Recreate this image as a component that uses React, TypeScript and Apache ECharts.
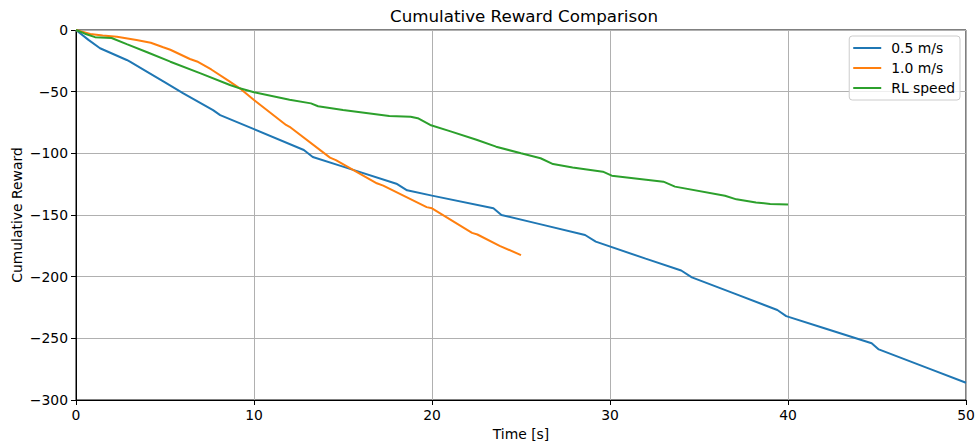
import React, { useEffect, useRef } from "react";
import * as echarts from "echarts";

const xTicks = [0, 10, 20, 30, 40, 50];
const yTicks = [0, -50, -100, -150, -200, -250, -300];

const seriesNames = ["0.5 m/s", "1.0 m/s", "RL speed"];
const seriesColors = ["#1f77b4", "#ff7f0e", "#2ca02c"];

const slowT = [0, 0.7, 1.35, 2.85, 3.03, 4, 5, 6.03, 7.7, 8.1, 10, 12.8, 13.3, 15, 18.0, 18.6, 20, 23.45, 23.9, 26, 28.6, 29.2, 32, 34.0, 34.6, 37, 39.4, 39.9, 42, 44.7, 45.1, 48, 50];
const slowV = [0, -8, -14.8, -24.3, -25.7, -34, -42.5, -51.4, -65, -69, -80.4, -97.3, -103, -110.8, -124.6, -130, -134.3, -144.6, -150, -157.2, -166.2, -171.6, -185.4, -195, -200.6, -213.8, -227, -232, -241.6, -254, -259, -275, -286];

const fastT = [0, 0.8, 1.5, 2.3, 3.4, 4.2, 4.9, 5.3, 6.4, 6.8, 7.6, 8.6, 9.2, 10, 11.8, 12.0, 14.27, 14.6, 16.9, 17.26, 19.7, 20.0, 22.25, 22.55, 23.8, 25];
const fastV = [0, -3.2, -4.5, -5.4, -8.1, -10.3, -14, -16, -23.5, -25.5, -32, -41.5, -47.3, -56.8, -77, -78.5, -103.5, -105.5, -124.3, -126.2, -143.6, -144.6, -164.5, -165.8, -175, -182.5];

const rlT = [0, 0.5, 1.07, 2.0, 2.85, 4, 5.3, 7, 8.65, 9.2, 10, 12, 13.2, 13.6, 15, 17.6, 18.8, 19.2, 19.9, 21, 22.5, 23.6, 25, 26.1, 26.8, 27.9, 29.6, 30.1, 33.0, 33.65, 36.46, 37.1, 38.2, 39, 40];
const rlV = [0, -3, -5.8, -6.5, -11.5, -18, -25.7, -35.2, -44.6, -47.3, -50.5, -56.5, -59.5, -61.8, -64.8, -69.7, -70.3, -71.5, -77, -82, -89, -94.6, -100, -104, -108.7, -111.4, -114.9, -118.1, -123, -127, -134.4, -137.3, -139.8, -141, -141.4];

const FONT = "DejaVu Sans";
const minus = (v: number) => String(v).replace("-", "\u2212");
const LINE_ICON = "path://M0,0 L28,0 L28,2 L0,2 Z";

function pairs(t: number[], v: number[]) {
  return t.map((x, i) => [x, v[i]]);
}

export default function App() {
  const ref = useRef<HTMLDivElement>(null);
  useEffect(() => {
    if (!ref.current) return;
    const chart = echarts.init(ref.current, undefined, { renderer: "svg" });
    const data = [pairs(slowT, slowV), pairs(fastT, fastV), pairs(rlT, rlV)];
    chart.setOption({
      animation: false,
      textStyle: { fontFamily: FONT },
      grid: {
        left: 76,
        right: 12,
        top: 30,
        bottom: 44,
        containLabel: false,
        outerBoundsMode: "none",
        show: true,
        borderColor: "#000",
        borderWidth: 1,
        backgroundColor: "transparent",
      },
      graphic: [
        {
          type: "text",
          x: 524,
          y: 16,
          style: {
            text: "Cumulative Reward Comparison",
            fontSize: 16.7,
            fontFamily: FONT,
            fill: "#000",
            align: "center",
            verticalAlign: "middle",
          },
        },
        {
          type: "text",
          x: 17,
          y: 215,
          rotation: Math.PI / 2,
          style: {
            text: "Cumulative Reward",
            fontSize: 13.9,
            fontFamily: FONT,
            fill: "#000",
            align: "center",
            verticalAlign: "middle",
          },
        },
      ],
      legend: {
        orient: "vertical",
        right: 18,
        top: 36,
        data: seriesNames.map((n) => ({ name: n, icon: LINE_ICON })),
        itemWidth: 28,
        itemHeight: 14,
        itemGap: 6,
        padding: [5, 5, 5, 4],
        borderColor: "#cccccc",
        borderWidth: 1,
        borderRadius: 3,
        backgroundColor: "rgba(255,255,255,0.8)",
        textStyle: { fontSize: 13.9, fontFamily: FONT, color: "#000", padding: [0, 0, 0, 5] },
      },
      xAxis: {
        type: "value",
        min: 0,
        max: 50,
        interval: 10,
        name: "Time [s]",
        nameLocation: "middle",
        nameGap: 25,
        nameTextStyle: { fontSize: 13.9, fontFamily: FONT, color: "#000" },
        axisLine: { show: true, onZero: false, lineStyle: { color: "#000", width: 1 } },
        axisTick: { show: true, length: 5, lineStyle: { color: "#000" } },
        axisLabel: { fontSize: 13.9, fontFamily: FONT, color: "#000", margin: 8, formatter: minus },
        splitLine: { show: true, lineStyle: { color: "#b0b0b0", width: 1 } },
      },
      yAxis: {
        type: "value",
        min: -300,
        max: 0,
        interval: 50,
        axisLine: { show: true, onZero: false, lineStyle: { color: "#000", width: 1 } },
        axisTick: { show: true, length: 5, lineStyle: { color: "#000" } },
        axisLabel: { fontSize: 13.9, fontFamily: FONT, color: "#000", margin: 8, formatter: minus },
        splitLine: { show: true, lineStyle: { color: "#b0b0b0", width: 1 } },
      },
      series: seriesNames.map((name, i) => ({
        name,
        type: "line",
        data: data[i],
        symbol: "none",
        showSymbol: false,
        color: seriesColors[i],
        lineStyle: { color: seriesColors[i], width: 2 },
        z: 3 + i,
      })),
    });
    return () => chart.dispose();
  }, []);
  return <div ref={ref} style={{ width: 978, height: 444, position: "absolute", left: 0, top: 0 }} />;
}
